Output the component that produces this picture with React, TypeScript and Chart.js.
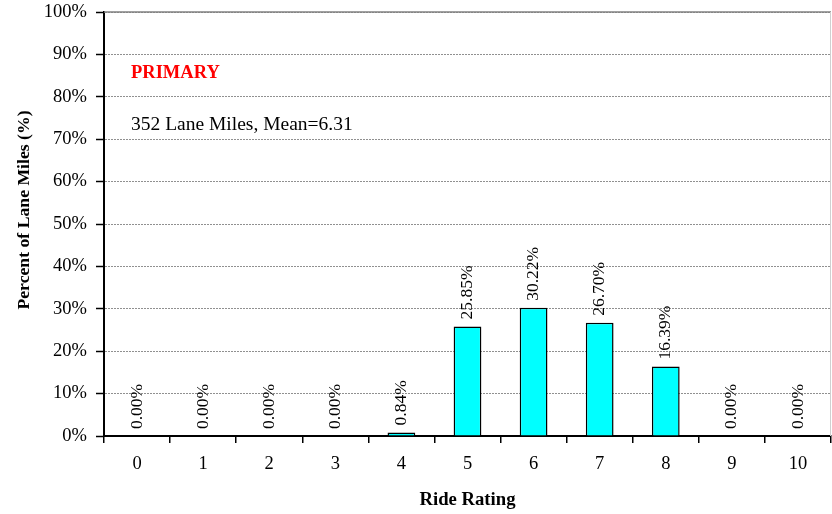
import React, { useEffect, useRef } from "react";
import { Chart, registerables } from "chart.js";

Chart.register(...registerables);

const categories = ["0", "1", "2", "3", "4", "5", "6", "7", "8", "9", "10"];
const percentValues = [0, 0, 0, 0, 0.84, 25.85, 30.22, 26.7, 16.39, 0, 0];
const yTickValues = [0, 10, 20, 30, 40, 50, 60, 70, 80, 90, 100];
const titleText = "PRIMARY";
const subtitleText = "352 Lane Miles, Mean=6.31";
const xAxisTitle = "Ride Rating";
const yAxisTitle = "Percent of Lane Miles (%)";

const FONT = "'Liberation Serif', 'Times New Roman', serif";

const labelPlugin = {
  id: "barLabels",
  afterDatasetsDraw(chart: any) {
    const ctx = chart.ctx;
    const meta = chart.getDatasetMeta(0);
    ctx.save();
    ctx.fillStyle = "#000";
    ctx.font = `17.5px ${FONT}`;
    ctx.textAlign = "left";
    ctx.textBaseline = "middle";
    meta.data.forEach((bar: any, i: number) => {
      const v = percentValues[i];
      ctx.save();
      ctx.translate(bar.x, bar.y - 7);
      ctx.rotate(-Math.PI / 2);
      ctx.fillText(v.toFixed(2) + "%", 0, 0);
      ctx.restore();
    });
    ctx.restore();
  },
  afterDraw(chart: any) {
    const ctx = chart.ctx;
    const a = chart.chartArea;
    ctx.save();
    // plot frame top/right
    ctx.strokeStyle = "#808080";
    ctx.lineWidth = 1.5;
    ctx.beginPath();
    ctx.moveTo(a.left, a.top);
    ctx.lineTo(a.right, a.top);
    ctx.stroke();
    ctx.strokeStyle = "#d0d0d0";
    ctx.lineWidth = 1;
    ctx.beginPath();
    ctx.moveTo(a.right - 0.5, a.top);
    ctx.lineTo(a.right - 0.5, a.bottom);
    ctx.stroke();
    // annotations
    ctx.textAlign = "left";
    ctx.textBaseline = "middle";
    ctx.fillStyle = "#ff0000";
    ctx.font = `bold 18.5px ${FONT}`;
    ctx.fillText(titleText, a.left + 27, a.top + 61);
    ctx.fillStyle = "#000";
    ctx.font = `19.5px ${FONT}`;
    ctx.fillText(subtitleText, a.left + 27, a.top + 113);
    // axis titles
    ctx.textAlign = "center";
    ctx.font = `bold 18.7px ${FONT}`;
    ctx.fillText(xAxisTitle, (a.left + a.right) / 2, a.bottom + 64);
    ctx.save();
    ctx.translate(24, (a.top + a.bottom) / 2 - 14);
    ctx.rotate(-Math.PI / 2);
    ctx.font = `bold 17.7px ${FONT}`;
    ctx.fillText(yAxisTitle, 0, 0);
    ctx.restore();
    ctx.restore();
  },
};

export default function App() {
  const ref = useRef<HTMLCanvasElement>(null);
  useEffect(() => {
    if (!ref.current) return;
    const chart = new Chart(ref.current, {
      type: "bar",
      data: {
        labels: categories,
        datasets: [
          {
            data: percentValues,
            backgroundColor: "#00ffff",
            borderColor: "#000",
            borderWidth: 1.5,
            barPercentage: 0.42,
            categoryPercentage: 1,
          },
        ],
      },
      options: {
        responsive: false,
        animation: false,
        layout: { padding: { top: 12, right: 1, left: 0, bottom: 0 } },
        plugins: { legend: { display: false }, tooltip: { enabled: false } },
        scales: {
          x: {
            type: "category",
            offset: true,
            grid: {
              display: true,
              drawOnChartArea: false,
              drawTicks: true,
              tickLength: 7,
              tickColor: "#000",
              offset: true,
              lineWidth: 1.5,
            },
            border: { display: true, color: "#000", width: 2 },
            ticks: { font: { family: FONT, size: 18.5 }, color: "#000", padding: 10 },
            title: { display: false },
            afterFit(scale: any) {
              scale.height = 78;
              scale.paddingLeft = 0;
              scale.paddingRight = 0;
            },
          },
          y: {
            min: 0,
            max: 100,
            afterBuildTicks(scale: any) {
              scale.ticks = yTickValues.map((v) => ({ value: v }));
            },
            grid: {
              color: "#909090",
              lineWidth: 1,
              tickColor: "#000",
              tickLength: 8,
              tickBorderDash: [],
              tickWidth: 1.5,
            },
            border: { display: true, color: "#000", width: 2, dash: [2, 1] },
            ticks: {
              font: { family: FONT, size: 18.5 },
              color: "#000",
              padding: 9,
              callback: (v: any) => v + "%",
            },
            title: { display: false },
            afterFit(scale: any) {
              scale.width = 104;
              scale.paddingTop = 0;
              scale.paddingBottom = 0;
            },
          },
        },
      },
      plugins: [labelPlugin],
    } as any);
    return () => chart.destroy();
  }, []);
  return (
    <div style={{ position: "fixed", left: 0, top: 0, width: 832, height: 514, background: "#fff" }}>
      <canvas ref={ref} width={832} height={514} />
    </div>
  );
}
